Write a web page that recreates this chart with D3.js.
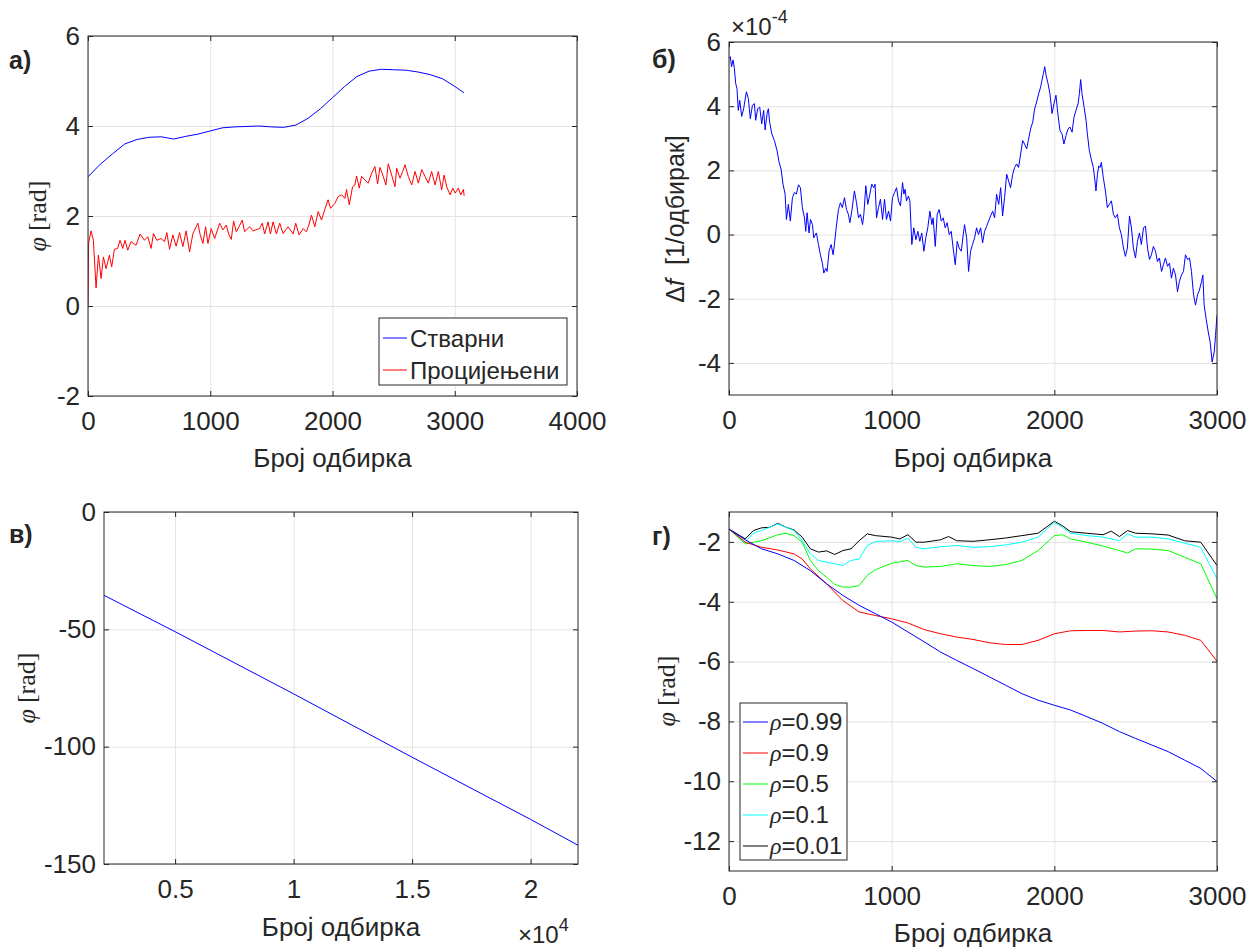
<!DOCTYPE html>
<html>
<head>
<meta charset="utf-8">
<script src="https://cdn.jsdelivr.net/npm/d3@7"></script>
<style>
  body { margin: 0; background: #fff; }
  svg text { fill: #262626; }
</style>
</head>
<body>
<div id="chart"></div>
<script>
// ---------- data ----------
// panel а) : actual vs estimated phase
const aBlueX = [0,100,200,300,400,500,600,700,800,900,1000,1100,1200,1300,1400,1500,1600,1700,1800,1900,2000,2100,2200,2300,2400,2500,2600,2700,2800,2900,3000,3075];
const aBlueY = [2.87,3.15,3.38,3.6,3.7,3.75,3.76,3.71,3.77,3.82,3.89,3.96,3.98,3.99,4.0,3.98,3.97,4.02,4.17,4.38,4.63,4.88,5.1,5.22,5.26,5.25,5.24,5.2,5.14,5.05,4.88,4.74];
const aRedX = [0,5,25,44,66,85,107,126,148,175,194,216,243,262,284,303,325,352,393,426,462,489,516,536,563,598,626,645,667,694,721,749,776,803,831,858,899,918,940,962,981,1008,1036,1077,1104,1131,1153,1172,1191,1213,1235,1262,1281,1322,1350,1404,1426,1445,1473,1492,1514,1541,1568,1596,1637,1678,1699,1727,1760,1787,1809,1828,1855,1883,1910,1937,1964,1984,2019,2046,2074,2101,2115,2137,2164,2183,2197,2219,2238,2265,2292,2320,2347,2369,2388,2415,2437,2456,2484,2511,2525,2552,2574,2593,2620,2648,2675,2702,2730,2757,2784,2811,2839,2866,2893,2913,2934,2962,2984,3003,3030,3049,3071,3077];
const aRedY = [0,1.4,1.67,1.46,0.4,1.13,0.61,1.09,0.83,1.13,0.87,1.26,1.28,1.46,1.28,1.46,1.24,1.43,1.35,1.6,1.46,1.54,1.28,1.61,1.46,1.5,1.43,1.63,1.26,1.58,1.33,1.63,1.32,1.67,1.2,1.61,1.84,1.58,1.39,1.76,1.39,1.72,1.5,1.84,1.69,1.8,1.58,1.48,1.89,1.65,1.76,1.91,1.65,1.76,1.67,1.72,1.84,1.6,1.87,1.6,1.87,1.6,1.84,1.61,1.76,1.6,1.84,1.58,1.72,1.65,1.82,2.02,1.76,2.1,1.91,2.15,2.36,2.17,2.28,2.43,2.47,2.39,2.59,2.25,2.65,2.69,2.89,2.62,2.88,2.8,2.73,2.95,3.1,2.71,3.08,2.88,2.69,3.16,2.91,2.65,3.06,2.84,2.99,3.14,2.88,2.69,2.99,2.73,3.03,2.88,2.73,2.99,2.69,2.99,2.58,2.91,2.65,2.47,2.62,2.51,2.62,2.47,2.59,2.45];

// panel б) : frequency offset (x1e-4)
const bX = [0,8,16,25,33,41,49,57,66,78,90,107,119,131,144,156,164,176,189,201,213,222,234,242,250,263,279,295,308,320,332,345,353,365,377,390,402,414,427,439,451,464,472,480,492,501,513,521,537,550,562,574,583,595,603,615,628,640,648,660,673,685,697,710,722,734,743,755,771,784,796,808,821,829,841,853,866,878,890,898,907,919,931,944,956,968,981,993,1005,1018,1030,1042,1054,1067,1075,1083,1091,1103,1112,1124,1136,1149,1161,1173,1185,1198,1210,1222,1235,1247,1255,1268,1280,1292,1305,1317,1329,1341,1354,1366,1378,1391,1403,1415,1428,1440,1448,1461,1473,1485,1497,1510,1522,1534,1547,1559,1571,1584,1596,1608,1621,1633,1645,1658,1670,1682,1694,1707,1719,1731,1744,1756,1768,1780,1793,1805,1817,1830,1842,1854,1867,1879,1891,1904,1916,1924,1933,1941,1949,1961,1973,1986,1998,2010,2023,2035,2047,2059,2072,2084,2096,2109,2121,2133,2146,2154,2162,2170,2183,2195,2203,2215,2227,2240,2252,2256,2265,2273,2281,2289,2301,2314,2326,2338,2351,2363,2375,2388,2400,2412,2425,2437,2449,2462,2474,2486,2499,2511,2523,2535,2548,2560,2573,2585,2597,2609,2622,2634,2646,2659,2671,2683,2696,2708,2720,2732,2745,2757,2769,2782,2794,2806,2819,2831,2843,2856,2868,2880,2892,2905,2913,2921,2933,2946,2958,2970,2983,2991,3000];
const bY = [5.49,5.54,5.23,5.44,5.18,4.71,4.55,3.87,4.18,3.68,3.92,4.45,4.24,3.61,4.03,4.08,3.56,3.92,3.97,3.45,3.87,3.26,3.77,3.92,3.5,3.14,2.93,2.62,2.25,2.04,1.57,1.26,0.47,0.94,0.42,1.15,1.31,1.26,1.55,1.46,0.84,0.52,0.1,0.68,0.05,0.47,0.31,-0.1,0.05,-0.31,-0.63,-0.89,-1.2,-1.05,-1.15,-0.52,-0.31,-0.63,-0.31,0.26,0.78,0.99,0.84,1.15,0.78,0.63,0.37,0.73,1.36,0.99,0.52,0.63,0.31,0.63,1.52,0.94,1.26,1.57,1.46,1.57,0.52,0.84,1.1,0.47,1.1,0.47,0.73,0.42,1.15,1.31,1.46,1.05,0.89,1.62,1.26,1.41,1.05,1.2,1.05,-0.31,0.21,-0.16,0.1,-0.21,0.05,-0.52,-0.1,0.21,0.73,0.31,0.52,-0.37,0.63,0.78,0.42,0.52,0.21,0.37,0,0.1,-0.42,-0.94,-0.21,-0.42,-0.52,0,0.31,-0.1,-1.15,-0.52,-0.31,-0.1,0.21,0,0.21,-0.26,0.1,0.26,0.42,0.58,0.73,0.52,1.26,0.94,1.46,0.58,1.15,1.88,1.67,1.46,1.88,2.09,2.2,2.09,2.51,2.93,2.82,2.67,2.98,3.29,3.5,3.92,4.13,4.39,4.6,4.81,5.02,5.23,4.97,4.71,4.39,3.77,4.08,4.34,3.71,3.24,3.14,2.82,3.09,3.29,3.35,3.19,3.66,3.87,4.08,4.39,4.83,4.39,3.97,3.56,3.14,2.62,2.35,2.09,1.57,1.36,1.88,2.14,2.09,2.25,1.78,1.36,0.84,0.94,1.05,0.63,0.52,0.63,0.21,0,-0.42,-0.68,-0.42,0.58,0.21,-0.42,-0.73,-0.21,0.05,-0.31,0.21,0.26,-0.42,-0.78,-0.63,-0.37,-0.52,-0.84,-0.73,-1.15,-0.94,-0.73,-0.99,-0.89,-1.36,-1.05,-1.26,-1.78,-1.46,-1.26,-1.15,-0.63,-0.78,-0.73,-1.15,-1.88,-2.2,-1.88,-1.73,-1.46,-1.26,-2.2,-2.62,-3.03,-3.35,-3.97,-3.66,-3.14,-2.51];

// panel в) : unwrapped phase over a long run
const cX = [2000,5000,10000,15000,20000,22000];
const cY = [-35.5,-51,-77.5,-104.5,-131,-142];

// panel г) : phase for different rho
const dNames = ["0.99","0.9","0.5","0.1","0.01"];
const dColors = ["#0000ff","#ff0000","#00ff00","#00ffff","#000000"];
const d099X = [0,100,200,300,400,500,600,700,800,900,1000,1100,1200,1300,1400,1500,1600,1700,1800,1900,2000,2100,2200,2300,2400,2500,2600,2700,2800,2900,3000];
const d099Y = [-1.57,-1.93,-2.23,-2.4,-2.62,-2.96,-3.4,-3.79,-4.12,-4.4,-4.68,-5.01,-5.34,-5.68,-5.96,-6.23,-6.51,-6.79,-7.07,-7.29,-7.46,-7.62,-7.84,-8.07,-8.34,-8.57,-8.79,-9.01,-9.29,-9.57,-10.01];
const d09X = [0,100,200,300,400,450,500,600,700,800,900,1000,1100,1200,1300,1400,1500,1600,1700,1800,1900,2000,2100,2200,2300,2400,2500,2600,2700,2800,2900,3000];
const d09Y = [-1.57,-2.01,-2.18,-2.27,-2.4,-2.57,-2.9,-3.4,-3.96,-4.34,-4.46,-4.57,-4.71,-4.93,-5.07,-5.18,-5.26,-5.37,-5.43,-5.43,-5.29,-5.07,-4.97,-4.96,-4.96,-5.01,-4.98,-4.97,-5.01,-5.12,-5.29,-5.99];
const d05X = [0,100,150,200,300,350,400,450,500,550,600,650,700,750,800,850,900,1000,1100,1150,1200,1300,1400,1500,1600,1700,1800,1900,2000,2050,2100,2200,2300,2400,2450,2500,2600,2700,2800,2900,3000];
const d05Y = [-1.57,-2.07,-2.01,-1.96,-1.76,-1.71,-1.79,-2.01,-2.62,-2.96,-3.18,-3.42,-3.51,-3.51,-3.46,-3.12,-2.93,-2.71,-2.62,-2.79,-2.84,-2.82,-2.73,-2.79,-2.82,-2.76,-2.62,-2.29,-1.79,-1.76,-1.9,-2.01,-2.14,-2.29,-2.37,-2.23,-2.24,-2.29,-2.51,-2.73,-3.9];
const d01X = [0,100,150,200,300,350,400,450,500,550,600,650,700,750,800,850,900,1000,1050,1100,1150,1200,1300,1400,1500,1600,1700,1800,1900,2000,2050,2100,2200,2300,2400,2450,2500,2600,2700,2800,2900,3000];
const d01Y = [-1.57,-2.01,-1.71,-1.62,-1.4,-1.51,-1.62,-1.96,-2.4,-2.62,-2.68,-2.73,-2.79,-2.62,-2.57,-2.12,-1.99,-1.96,-1.99,-1.87,-2.18,-2.23,-2.16,-2.12,-2.18,-2.16,-2.1,-2.01,-1.84,-1.34,-1.51,-1.71,-1.79,-1.84,-1.96,-1.73,-1.84,-1.84,-1.9,-2.04,-2.18,-3.23];
const d001X = [0,100,150,200,250,300,350,400,450,500,550,600,650,700,750,800,850,900,1000,1050,1100,1150,1200,1300,1350,1400,1500,1600,1700,1800,1900,2000,2050,2100,2200,2300,2350,2400,2450,2500,2600,2700,2800,2900,3000];
const d001Y = [-1.57,-1.9,-1.62,-1.53,-1.51,-1.38,-1.51,-1.6,-1.84,-2.23,-2.34,-2.3,-2.42,-2.29,-2.23,-1.96,-1.73,-1.79,-1.84,-1.9,-1.76,-2.01,-2.01,-1.93,-1.82,-1.96,-1.98,-1.93,-1.87,-1.79,-1.71,-1.31,-1.46,-1.66,-1.71,-1.76,-1.64,-1.82,-1.62,-1.71,-1.73,-1.77,-1.96,-2.01,-2.79];

// ---------- drawing ----------
const SANS = "'Liberation Sans', Arial, Helvetica, sans-serif";
const SERIF = "'Liberation Serif', 'Times New Roman', serif";
const INK = "#262626";
const TICK_FS = 26;

const svg = d3.select("#chart").append("svg")
  .attr("width", 1255).attr("height", 948)
  .style("background", "#fff");

let clipId = 0;
function panel(o) {
  const x = d3.scaleLinear().domain(o.xd).range([o.l, o.r]);
  const y = d3.scaleLinear().domain(o.yd).range([o.b, o.t]);
  const g = svg.append("g");

  // grid
  const gx = g.append("g").attr("transform", `translate(0,${o.b})`)
    .call(d3.axisBottom(x).tickValues(o.xt).tickSize(-(o.b - o.t)).tickFormat(""));
  const gy = g.append("g").attr("transform", `translate(${o.l},0)`)
    .call(d3.axisLeft(y).tickValues(o.yt).tickSize(-(o.r - o.l)).tickFormat(""));
  [gx, gy].forEach(s => {
    s.select(".domain").remove();
    s.selectAll("line").attr("stroke", "#e3e3e3").attr("stroke-width", 1);
  });

  // data lines
  const cid = "clip" + (clipId++);
  svg.append("clipPath").attr("id", cid).append("rect")
    .attr("x", o.l).attr("y", o.t).attr("width", o.r - o.l).attr("height", o.b - o.t);
  const line = d3.line().x(d => x(d[0])).y(d => y(d[1]));
  o.series.forEach(s => {
    g.append("path")
      .datum(d3.zip(s.x, s.y))
      .attr("clip-path", `url(#${cid})`)
      .attr("fill", "none")
      .attr("stroke", s.color)
      .attr("stroke-width", 1)
      .attr("stroke-linejoin", "round")
      .attr("d", line);
  });

  // axes with inward ticks on all four sides
  const fmtX = o.xf || (d => String(d));
  const fmtY = d => String(d);
  const axB = g.append("g").attr("transform", `translate(0,${o.b})`)
    .call(d3.axisBottom(x).tickValues(o.xt).tickFormat(fmtX).tickSize(-5).tickPadding(16));
  const axL = g.append("g").attr("transform", `translate(${o.l},0)`)
    .call(d3.axisLeft(y).tickValues(o.yt).tickFormat(fmtY).tickSize(-5).tickPadding(8));
  const axT = g.append("g").attr("transform", `translate(0,${o.t})`)
    .call(d3.axisTop(x).tickValues(o.xt).tickFormat("").tickSize(-5));
  const axR = g.append("g").attr("transform", `translate(${o.r},0)`)
    .call(d3.axisRight(y).tickValues(o.yt).tickFormat("").tickSize(-5));
  [axB, axL, axT, axR].forEach(s => {
    s.attr("font-family", SANS).attr("font-size", TICK_FS);
    s.select(".domain").remove();
    s.selectAll("line").attr("stroke", INK);
    s.selectAll("text").attr("fill", INK);
  });

  g.append("rect")
    .attr("x", o.l).attr("y", o.t).attr("width", o.r - o.l).attr("height", o.b - o.t)
    .attr("fill", "none").attr("stroke", INK).attr("stroke-width", 1);

  // x label
  g.append("text")
    .attr("x", (o.l + o.r) / 2).attr("y", o.xlabelY)
    .attr("text-anchor", "middle")
    .attr("font-family", SANS).attr("font-size", 26)
    .attr("fill", "#000")
    .text("Број одбирка");

  // panel letter
  svg.append("text")
    .attr("x", o.tag[0]).attr("y", o.tag[1])
    .attr("font-family", SANS).attr("font-size", 25).attr("font-weight", "bold")
    .attr("fill", "#000")
    .text(o.tagText);

  return { x, y, g };
}

function phiLabel(cx, cy) {
  const t = svg.append("text")
    .attr("transform", `translate(${cx},${cy}) rotate(-90)`)
    .attr("text-anchor", "middle")
    .attr("dominant-baseline", "central")
    .attr("font-family", SERIF).attr("font-size", 26);
  t.append("tspan").attr("font-style", "italic").text("φ");
  t.append("tspan").attr("dx", 6).text("[rad]");
}

// а)
const pa = panel({
  l: 88, r: 577, t: 36, b: 396,
  xd: [0, 4000], yd: [-2, 6],
  xt: [0, 1000, 2000, 3000, 4000], yt: [-2, 0, 2, 4, 6],
  series: [
    { x: aBlueX, y: aBlueY, color: "#0000ff" },
    { x: aRedX, y: aRedY, color: "#ff0000" }
  ],
  xlabelY: 467, tag: [9, 69], tagText: "а)"
});
phiLabel(37, 216);

// legend а)
const legA = svg.append("g");
legA.append("rect").attr("x", 379).attr("y", 318).attr("width", 188).attr("height", 67)
  .attr("fill", "#fff").attr("stroke", INK).attr("stroke-width", 1);
[["Стварни", "#0000ff"], ["Процијењени", "#ff0000"]].forEach((e, i) => {
  const yy = 338 + i * 32;
  legA.append("line").attr("x1", 383).attr("x2", 407).attr("y1", yy).attr("y2", yy)
    .attr("stroke", e[1]).attr("stroke-width", 1);
  legA.append("text").attr("x", 410).attr("y", yy).attr("dominant-baseline", "central")
    .attr("font-family", SANS).attr("font-size", 24).attr("fill", "#000").text(e[0]);
});

// б)
const pb = panel({
  l: 729, r: 1217, t: 42, b: 395,
  xd: [0, 3000], yd: [-5, 6],
  xt: [0, 1000, 2000, 3000], yt: [-4, -2, 0, 2, 4, 6],
  series: [{ x: bX, y: bY, color: "#0000ff" }],
  xlabelY: 467, tag: [652, 68], tagText: "б)"
});
{
  const t = svg.append("text")
    .attr("transform", "translate(675,219) rotate(-90)")
    .attr("text-anchor", "middle").attr("dominant-baseline", "central")
    .attr("font-family", SANS).attr("font-size", 25).attr("fill", "#000");
  t.append("tspan").text("Δ");
  t.append("tspan").attr("font-style", "italic").text("f");
  t.append("tspan").attr("dx", 14).text("[1/одбирак]");
  const e = svg.append("text").attr("x", 731).attr("y", 35)
    .attr("font-family", SANS).attr("font-size", 24);
  e.append("tspan").text("×10");
  e.append("tspan").attr("dy", -12).attr("font-size", 18).text("-4");
}

// в)
const pc = panel({
  l: 104, r: 578, t: 512, b: 864,
  xd: [2000, 22000], yd: [-150, 0],
  xt: [5000, 10000, 15000, 20000], yt: [-150, -100, -50, 0],
  xf: d => String(d / 10000),
  series: [{ x: cX, y: cY, color: "#0000ff" }],
  xlabelY: 936, tag: [9, 543], tagText: "в)"
});
phiLabel(26, 688);
{
  const e = svg.append("text").attr("x", 518).attr("y", 943)
    .attr("font-family", SANS).attr("font-size", 24);
  e.append("tspan").text("×10");
  e.append("tspan").attr("dy", -12).attr("font-size", 18).text("4");
}

// г)
const dSeriesX = [d099X, d09X, d05X, d01X, d001X];
const dSeriesY = [d099Y, d09Y, d05Y, d01Y, d001Y];
const pd = panel({
  l: 729, r: 1217, t: 512, b: 871,
  xd: [0, 3000], yd: [-13, -1],
  xt: [0, 1000, 2000, 3000], yt: [-12, -10, -8, -6, -4, -2],
  series: dSeriesX.map((xs, i) => ({ x: xs, y: dSeriesY[i], color: dColors[i] })).reverse(),
  xlabelY: 942, tag: [652, 545], tagText: "г)"
});
phiLabel(666, 691);

// legend г)
const legD = svg.append("g");
legD.append("rect").attr("x", 740).attr("y", 703).attr("width", 107).attr("height", 157)
  .attr("fill", "#fff").attr("stroke", INK).attr("stroke-width", 1);
dNames.forEach((n, i) => {
  const yy = 722 + i * 31;
  legD.append("line").attr("x1", 743).attr("x2", 768).attr("y1", yy).attr("y2", yy)
    .attr("stroke", dColors[i]).attr("stroke-width", 1);
  const t = legD.append("text").attr("x", 770).attr("y", yy + 8)
    .attr("font-family", SANS).attr("font-size", 24).attr("fill", "#000");
  t.append("tspan").attr("font-family", SERIF).attr("font-style", "italic").text("ρ");
  t.append("tspan").text("=" + n);
});
</script>
</body>
</html>
